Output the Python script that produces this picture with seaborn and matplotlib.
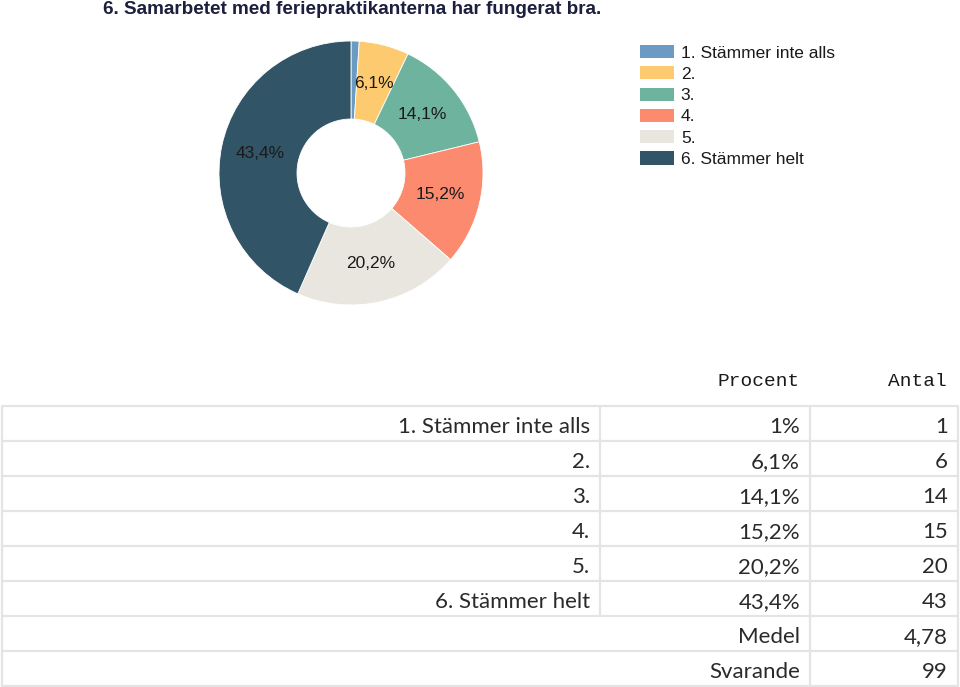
import matplotlib
matplotlib.use("Agg")
import matplotlib.pyplot as plt
import seaborn as sns
from matplotlib.patches import Patch

# ---- data ----
title = "6. Samarbetet med feriepraktikanterna har fungerat bra."
categories = ["1. Stämmer inte alls", "2.", "3.", "4.", "5.", "6. Stämmer helt"]
percents = [1.0, 6.1, 14.1, 15.2, 20.2, 43.4]
counts = [1, 6, 14, 15, 20, 43]
mean_label = "Medel"
mean_value = "4,78"
n_label = "Svarande"
n_value = "99"
header_cols = ["Procent", "Antal"]
colors = ["#6b9bc3", "#fdca6f", "#6eb39e", "#fb8a6e", "#e8e6df", "#325467"]

sns.set_theme(style="white")
plt.rcParams["font.family"] = ["Liberation Sans", "DejaVu Sans"]

W, H = 960, 687
fig = plt.figure(figsize=(W / 100, H / 100), dpi=100)
fig.patch.set_facecolor("white")


def fmt(v):
    s = f"{v:.1f}".replace(".", ",")
    if s.endswith(",0"):
        s = s[:-2]
    return s + "%"


# ---- donut ----
cx, cy, R, r_in = 351, 173, 132, 54
pax = fig.add_axes([(cx - R) / W, 1 - (cy + R) / H, 2 * R / W, 2 * R / H])
wedges, _t, autotexts = pax.pie(
    percents, colors=colors, startangle=90, counterclock=False,
    radius=1.0, pctdistance=0.70,
    autopct=lambda p: "",
    wedgeprops=dict(width=(R - r_in) / R, edgecolor="white", linewidth=0.6),
)
for at, v in zip(autotexts, percents):
    if v >= 5:
        at.set_text(fmt(v))
    at.set_fontsize(12.5)
    at.set_color("#1a1a1a")
pax.set_xlim(-1, 1)
pax.set_ylim(-1, 1)
pax.set_aspect("auto")
pax.axis("off")

# legend
handles = [Patch(facecolor=c, edgecolor="none") for c in colors]
leg = fig.legend(
    handles, categories, loc="upper left",
    bbox_to_anchor=(640 / W, 1 - 45 / H), bbox_transform=fig.transFigure,
    frameon=False, fontsize=12.5, handlelength=1.95, handleheight=0.78,
    handletextpad=0.4, labelspacing=0.33, borderpad=0, borderaxespad=0,
)
for t in leg.get_texts():
    t.set_color("#1a1a1a")

# ---- overlay axis for title and table ----
oax = fig.add_axes([0, 0, 1, 1])
oax.set_xlim(0, W)
oax.set_ylim(H, 0)
oax.axis("off")
oax.patch.set_alpha(0)

oax.text(103, 10, title, fontsize=13.6, fontweight="bold", color="#1c1f3d",
         ha="left", va="center", family=["Liberation Sans", "DejaVu Sans"])

mono = ["Liberation Mono", "DejaVu Sans Mono"]
oax.text(800, 381, header_cols[0], fontsize=14, ha="right", va="center",
         family=mono, color="#1a1a1a")
oax.text(947, 381, header_cols[1], fontsize=14, ha="right", va="center",
         family=mono, color="#1a1a1a")

narrow = ["Lato", "DejaVu Sans"]
top, rowh = 406, 35
x0, x1, x2, x3 = 2, 600, 810, 958
gc = "#e4e4e4"
nrows = len(categories) + 2
for i in range(nrows + 1):
    y = top + i * rowh
    oax.plot([x0, x3], [y, y], color=gc, lw=1.6, solid_capstyle="butt")
for x in (x0, x2, x3):
    oax.plot([x, x], [top, top + nrows * rowh], color=gc, lw=1.6)
oax.plot([x1, x1], [top, top + len(categories) * rowh], color=gc, lw=1.6)

fs = 16
tc = "#2a2a2a"
for i, (c, p, n) in enumerate(zip(categories, percents, counts)):
    yc = top + i * rowh + rowh / 2 + 1.5
    oax.text(590, yc, c, ha="right", va="center_baseline", fontsize=fs, family=narrow, color=tc)
    oax.text(800, yc, fmt(p), ha="right", va="center_baseline", fontsize=fs, family=narrow, color=tc)
    oax.text(948, yc, str(n), ha="right", va="center_baseline", fontsize=fs, family=narrow, color=tc)
for j, (lab, val) in enumerate([(mean_label, mean_value), (n_label, n_value)]):
    yc = top + (len(categories) + j) * rowh + rowh / 2 + 1.5
    oax.text(800, yc, lab, ha="right", va="center_baseline", fontsize=fs, family=narrow, color=tc)
    oax.text(948, yc, val, ha="right", va="center_baseline", fontsize=fs, family=narrow, color=tc)

fig.savefig("out.png", dpi=100, facecolor="white")
